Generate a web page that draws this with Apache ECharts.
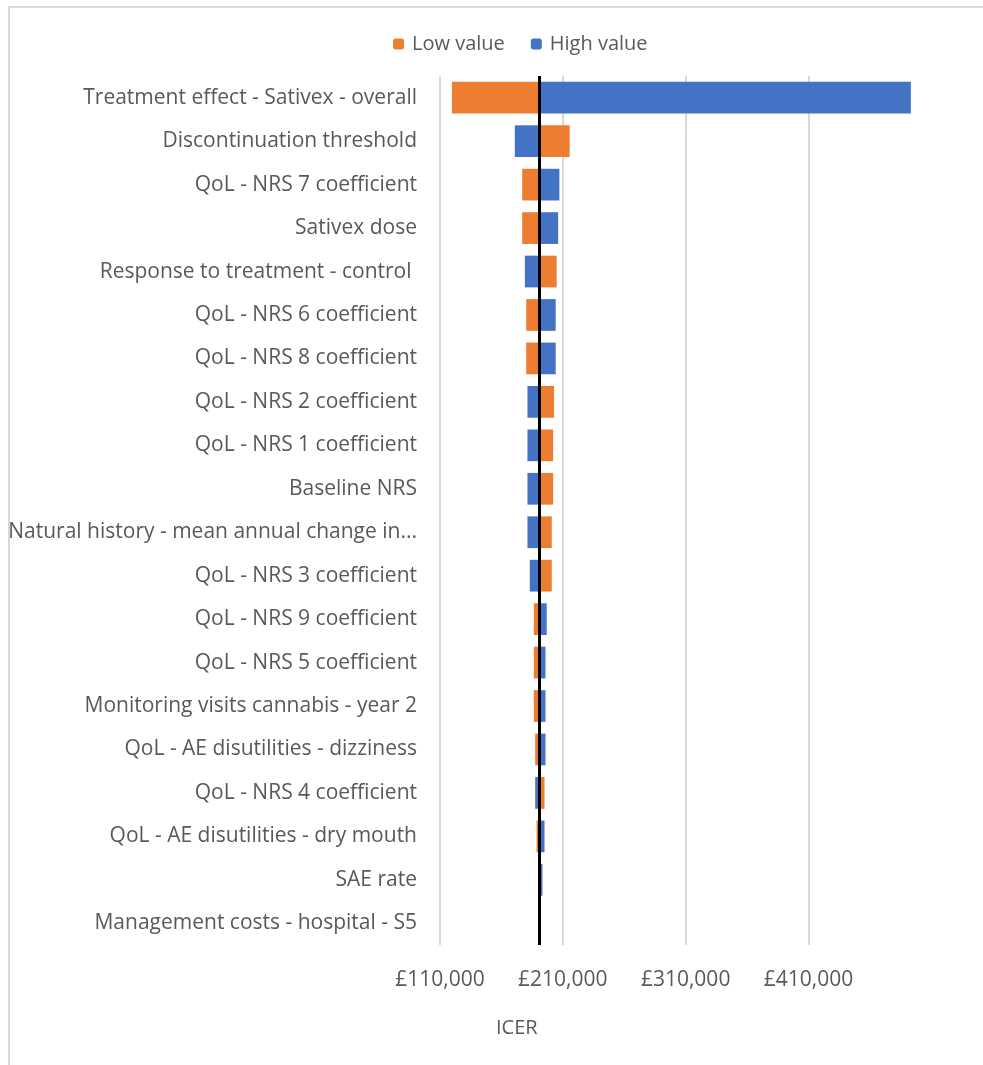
<!DOCTYPE html>
<html>
<head>
<meta charset="utf-8">
<script src="https://cdn.jsdelivr.net/npm/echarts@6/dist/echarts.min.js"></script>
<style>
  html, body { margin: 0; padding: 0; background: #fff; }
  #chart { width: 983px; height: 1065px; }
</style>
</head>
<body>
<div id="chart"></div>
<script>
// tornado chart: ICER at low / high value of each parameter
const categories = [
  'Treatment effect - Sativex - overall',
  'Discontinuation threshold',
  'QoL - NRS 7 coefficient',
  'Sativex dose',
  'Response to treatment - control ',
  'QoL - NRS 6 coefficient',
  'QoL - NRS 8 coefficient',
  'QoL - NRS 2 coefficient',
  'QoL - NRS 1 coefficient',
  'Baseline NRS',
  'Natural history - mean annual change in...',
  'QoL - NRS 3 coefficient',
  'QoL - NRS 9 coefficient',
  'QoL - NRS 5 coefficient',
  'Monitoring visits cannabis - year 2',
  'QoL - AE disutilities - dizziness',
  'QoL - NRS 4 coefficient',
  'QoL - AE disutilities - dry mouth',
  'SAE rate',
  'Management costs - hospital - S5'
];

const lowValues = [
  119700, 215600, 176900, 176900, 205000, 180200, 180200, 202900, 202100, 202100,
  201000, 201000, 186400, 186400, 186400, 187500, 195100, 188600, 191000, 191000
];

const highValues = [
  493400, 170900, 207200, 206200, 179100, 204200, 204200, 181200, 181200, 181200,
  181200, 183100, 196900, 195900, 195900, 195900, 187500, 195100, 193400, 191000
];

const baseIcer = 191000;
const axisMin = 110000;
const axisMax = 500000;
const tickStep = 100000;

const orange = '#ED7D31';
const blue = '#4472C4';
const labelFont = '"Open Sans", "Liberation Sans", sans-serif';

function barRenderer(color) {
  return function (params, api) {
    const cat = api.value(0);
    const v = api.value(1);
    const a = api.coord([baseIcer, cat]);
    const b = api.coord([v, cat]);
    const h = api.size([0, 1])[1] * 0.73;
    return {
      type: 'rect',
      shape: {
        x: Math.min(a[0], b[0]),
        y: a[1] - h / 2,
        width: Math.abs(b[0] - a[0]),
        height: h
      },
      style: { fill: color }
    };
  };
}

const chart = echarts.init(document.getElementById('chart'));

chart.setOption({
  animation: false,
  backgroundColor: '#fff',
  graphic: [{
    type: 'rect',
    shape: { x: 9, y: 7, width: 1000, height: 1100 },
    style: { fill: 'none', stroke: '#d9d9d9', lineWidth: 2 },
    silent: true,
    z: -10
  }],
  title: {
    text: 'ICER',
    left: 491,
    top: 1013,
    textStyle: { color: '#595959', fontSize: 20, fontWeight: 'normal', fontFamily: labelFont }
  },
  legend: {
    left: 388,
    top: 29,
    itemWidth: 11,
    itemHeight: 11,
    itemGap: 26,
    data: ['Low value', 'High value'],
    textStyle: { color: '#595959', fontSize: 20, fontFamily: labelFont, padding: [0, 0, 0, 3] }
  },
  grid: { left: 440, right: 64, top: 76, bottom: 120 },
  xAxis: {
    type: 'value',
    min: axisMin,
    max: axisMax,
    interval: tickStep,
    axisLine: { show: false },
    axisTick: { show: false },
    axisLabel: {
      color: '#595959',
      fontSize: 21,
      fontFamily: labelFont,
      margin: 25,
      showMaxLabel: false,
      formatter: v => '£' + v.toLocaleString('en-GB')
    },
    splitLine: { show: true, showMaxLine: false, lineStyle: { color: '#d9d9d9', width: 2 } }
  },
  yAxis: {
    type: 'category',
    data: categories,
    inverse: true,
    axisLine: { show: false },
    axisTick: { show: false },
    splitLine: { show: false },
    axisLabel: { color: '#595959', fontSize: 21, fontFamily: labelFont, margin: 23, padding: [7, 0, 0, 0] }
  },
  series: [
    {
      name: 'Low value',
      type: 'custom',
      itemStyle: { color: orange },
      encode: { x: 1, y: 0 },
      renderItem: barRenderer(orange),
      data: lowValues.map((v, i) => [i, v])
    },
    {
      name: 'High value',
      type: 'custom',
      itemStyle: { color: blue },
      encode: { x: 1, y: 0 },
      renderItem: barRenderer(blue),
      data: highValues.map((v, i) => [i, v]),
      markLine: {
        silent: true,
        symbol: 'none',
        z: 10,
        label: { show: false },
        lineStyle: { color: '#000', width: 3, type: 'solid' },
        data: [{ xAxis: baseIcer }]
      }
    }
  ]
});
</script>
</body>
</html>
